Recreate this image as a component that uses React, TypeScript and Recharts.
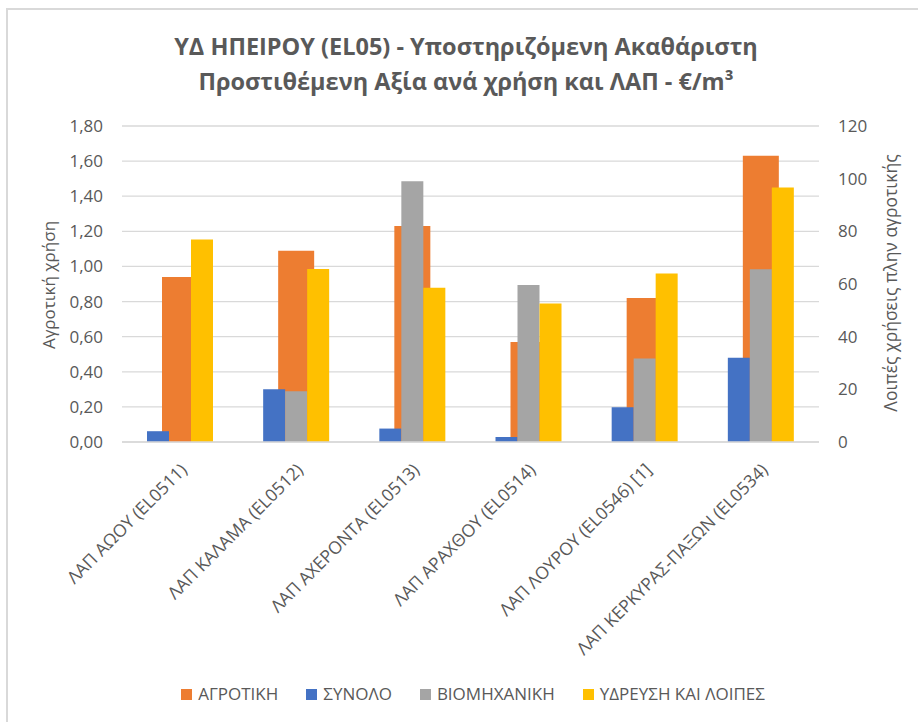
import { BarChart, Bar, XAxis, YAxis, CartesianGrid, Legend } from "recharts";

const categories = [
  "ΛΑΠ ΑΩΟΥ (EL0511)",
  "ΛΑΠ ΚΑΛΑΜΑ (EL0512)",
  "ΛΑΠ ΑΧΕΡΟΝΤΑ (EL0513)",
  "ΛΑΠ ΑΡΑΧΘΟΥ (EL0514)",
  "ΛΑΠ ΛΟΥΡΟΥ (EL0546) [1]",
  "ΛΑΠ ΚΕΡΚΥΡΑΣ-ΠΑΞΩΝ (EL0534)",
];

// left axis (αγροτική χρήση)
const agrotiki = [0.94, 1.09, 1.23, 0.57, 0.82, 1.63];
// right axis (λοιπές χρήσεις)
const synolo = [4.1, 20.0, 5.1, 1.9, 13.2, 32.0];
const viomichaniki = [0, 19.3, 99.0, 59.6, 31.7, 65.6];
const ydreysi = [76.9, 65.7, 58.6, 52.6, 64.0, 96.6];

const leftTicks = [0, 0.2, 0.4, 0.6, 0.8, 1.0, 1.2, 1.4, 1.6, 1.8];
const rightTicks = [0, 20, 40, 60, 80, 100, 120];

const series = [
  { key: "agrotiki", name: "ΑΓΡΟΤΙΚΗ", color: "#ED7D31" },
  { key: "synolo", name: "ΣΥΝΟΛΟ", color: "#4472C4" },
  { key: "viomichaniki", name: "ΒΙΟΜΗΧΑΝΙΚΗ", color: "#A5A5A5" },
  { key: "ydreysi", name: "ΥΔΡΕΥΣΗ ΚΑΙ ΛΟΙΠΕΣ", color: "#FFC000" },
];

const data = categories.map((name, i) => ({
  name,
  agrotiki: agrotiki[i],
  synolo: synolo[i],
  viomichaniki: viomichaniki[i],
  ydreysi: ydreysi[i],
}));

const FONT = "'Open Sans', sans-serif";
const TEXT = "#595959";

const XTick = ({ x, y, payload }) => (
  <g transform={`translate(${x + 8},${y + 29}) rotate(-45)`}>
    <text textAnchor="end" fontSize={17.5} fontFamily={FONT} fill={TEXT}>
      {payload.value}
    </text>
  </g>
);

const LegendBox = () => (
  <div style={{ display: "flex", justifyContent: "center", fontFamily: FONT, fontSize: 17, color: TEXT, lineHeight: "22px" }}>
    {series.map((s, i) => (
      <div key={s.key} style={{ display: "flex", alignItems: "center", marginLeft: i ? 28 : 0 }}>
        <span style={{ width: 11, height: 11, background: s.color, marginRight: 6, display: "inline-block" }} />
        <span>{s.name}</span>
      </div>
    ))}
  </div>
);

export default function App() {
  return (
    <div style={{ position: "absolute", left: 0, top: 0, width: 918, height: 722, background: "#fff", overflow: "hidden" }}>
      <div
        style={{
          position: "absolute",
          left: 6,
          top: 8,
          width: 930,
          height: 730,
          borderTop: "2px solid #d9d9d9",
          borderLeft: "2px solid #d9d9d9",
        }}
      />
      <div
        style={{
          position: "absolute",
          left: 0,
          top: 29,
          width: 932,
          textAlign: "center",
          fontFamily: FONT,
          fontWeight: 700,
          fontSize: 23.5,
          lineHeight: "35px",
          color: TEXT,
        }}
      >
        ΥΔ ΗΠΕΙΡΟΥ (EL05) - Υποστηριζόμενη Ακαθάριστη
        <br />
        Προστιθέμενη Αξία ανά χρήση και ΛΑΠ - €/m³
      </div>
      <div
        style={{
          position: "absolute",
          left: 48,
          top: 285,
          transform: "translate(-50%,-50%) rotate(-90deg)",
          whiteSpace: "nowrap",
          fontFamily: FONT,
          fontSize: 17,
          color: TEXT,
        }}
      >
        Αγροτική χρήση
      </div>
      <div
        style={{
          position: "absolute",
          left: 890,
          top: 283,
          transform: "translate(-50%,-50%) rotate(-90deg)",
          whiteSpace: "nowrap",
          fontFamily: FONT,
          fontSize: 17.5,
          color: TEXT,
        }}
      >
        Λοιπές χρήσεις πλην αγροτικής
      </div>
      <BarChart
        width={918}
        height={722}
        data={data}
        margin={{ top: 126, right: 0, bottom: 0, left: 0 }}
        barGap={0}
        style={{ position: "absolute", left: 0, top: 0 }}
      >
        <CartesianGrid vertical={false} stroke="#d9d9d9" strokeWidth={1.3} xAxisId="a" yAxisId="left" />
        <XAxis
          xAxisId="a"
          dataKey="name"
          height={280}
          interval={0}
          tickLine={false}
          tickSize={0}
          tickMargin={0}
          axisLine={{ stroke: "#d9d9d9", strokeWidth: 1.3 }}
          tick={<XTick />}
        />
        <XAxis xAxisId="b" dataKey="name" hide />
        <YAxis
          yAxisId="left"
          width={122}
          domain={[0, 1.8]}
          ticks={leftTicks}
          axisLine={false}
          tickLine={false}
          tickSize={0}
          tickMargin={19}
          tickFormatter={(v) => v.toFixed(2).replace(".", ",")}
          tick={{ fontSize: 17, fontFamily: FONT, fill: TEXT }}
        />
        <YAxis
          yAxisId="right"
          orientation="right"
          width={99}
          domain={[0, 120]}
          ticks={rightTicks}
          axisLine={false}
          tickLine={false}
          tickSize={0}
          tickMargin={19}
          tick={{ fontSize: 17, fontFamily: FONT, fill: TEXT }}
        />
        <Legend
          layout="horizontal"
          verticalAlign="middle"
          align="center"
          content={<LegendBox />}
          wrapperStyle={{ top: 683, left: 14, width: 918 }}
        />
        {series.map((s, i) => (
          <Bar
            key={s.key}
            dataKey={s.key}
            name={s.name}
            xAxisId={i === 0 ? "a" : "b"}
            yAxisId={i === 0 ? "left" : "right"}
            fill={s.color}
            barSize={i === 0 ? 36 : 22}
            isAnimationActive={false}
          />
        ))}
      </BarChart>
    </div>
  );
}
